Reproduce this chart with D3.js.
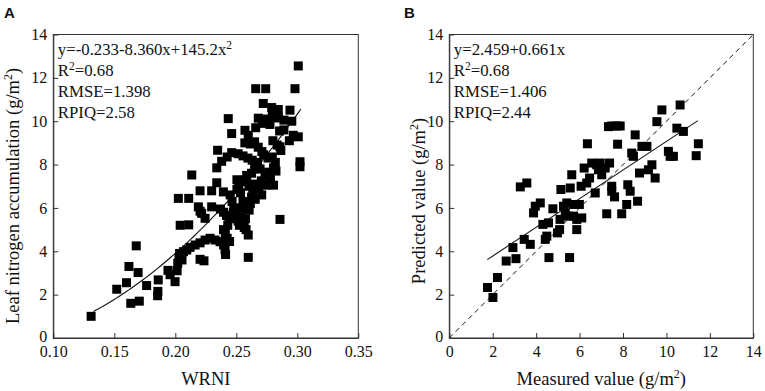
<!DOCTYPE html>
<html>
<head>
<meta charset="utf-8">
<script src="https://cdn.jsdelivr.net/npm/d3@7"></script>
<style>
  html, body { margin: 0; padding: 0; background: #fff; }
  svg { display: block; }
</style>
</head>
<body>
<svg id="chart" width="765" height="391"></svg>
<script>
// ---------- Panel A data: WRNI vs leaf nitrogen accumulation ----------
const wrniA = [
  0.131,0.152,0.160,0.162,0.1635,0.1705,0.168,0.1695,0.1765,0.1855,0.1857,0.186,0.194,0.1957,0.1998,
  0.2015,0.202,0.203,0.2035,0.2025,0.211,0.204,0.211,0.2135,0.2067,0.2094,0.2121,0.2162,0.2203,0.2244,0.2285,0.2326,0.2367,0.2396,0.2408,0.2412,0.2203,0.2235,0.205,0.2055,
  0.2203,0.2298,0.234,0.2189,0.2216,0.2244,0.2203,0.2298,0.2394,0.2347,0.238,0.234,0.237,0.2395,0.242,0.244,0.2395,0.241,0.2425,0.2445,0.243,
  0.245,0.2465,0.248,0.25,0.2515,0.2525,0.2485,0.2475,0.2535,0.255,0.2565,0.258,0.2545,0.2555,0.2535,0.252,0.2505,0.2555,0.2575,0.2585,0.2505,0.2598,0.2598,0.2575,0.2605,0.2615,0.2625,0.2635,0.264,0.2625,0.265,0.266,0.2605,
  0.2462,0.2515,0.2555,0.2595,0.263,0.2675,0.2425,
  0.2434,0.2462,0.2571,0.2598,0.2659,0.268,0.2715,0.274,0.2776,0.257,0.2615,0.265,0.268,0.271,0.2659,0.2741,
  0.2981,0.3008,0.2721,0.279,0.2844,0.294,0.2795,0.2845,0.289,0.2955,0.2855,0.289,0.2967,0.3008,0.2935,0.28,0.2835,0.2858,0.2865,0.2725,0.276,0.2795,0.282,0.2805,0.2825,0.3022,0.3022,0.2708,0.2745,0.2705,0.2735,0.2655,0.2685,0.2858,0.2805,0.278,0.2765,0.2695
];
const lnaA = [
  1.0,2.25,2.55,3.3,1.6,1.7,4.25,3.02,2.42,1.95,2.15,2.68,3.12,2.92,2.6,
  3.1,3.45,3.7,3.9,6.44,6.44,5.2,5.22,7.52,3.98,4.06,4.18,4.29,4.39,4.52,4.6,4.52,4.44,4.29,4.06,3.85,3.63,3.56,3.75,3.6,
  6.79,6.79,7.16,6.05,5.75,5.52,5.85,6.05,6.74,8.66,8.15,7.85,5.95,5.8,5.65,5.55,5.0,4.8,4.6,4.45,5.2,
  6.6,6.3,6.0,5.7,5.4,5.2,5.5,5.8,5.6,5.3,5.1,5.0,6.0,6.3,6.7,7.0,6.85,7.2,7.3,7.5,7.3,4.75,3.72,5.5,5.9,6.2,6.5,6.8,7.1,7.6,7.8,8.0,7.0,
  8.55,8.5,8.4,8.3,8.2,8.1,8.35,
  10.12,9.43,9.58,9.35,9.7,10.14,9.9,10.1,9.85,9.0,8.95,9.05,8.8,8.6,11.5,11.5,
  11.5,12.55,10.82,10.63,10.54,10.51,10.25,10.15,10.05,10.0,9.55,9.6,9.35,9.28,9.1,9.1,8.9,8.82,8.65,8.45,8.3,8.35,8.1,7.85,7.7,8.13,7.9,6.6,7.05,7.25,7.5,6.4,6.9,5.47,7.05,7.4,7.65,7.8
];
// fitted quadratic shown on the chart: y = c0 + c1 x + c2 x^2
const fitCoefA = [-0.233, -8.360, 145.2];
const fitRangeA = [0.133, 0.303];
const xTicksA = [0.10, 0.15, 0.20, 0.25, 0.30, 0.35];
const yTicks = [0, 2, 4, 6, 8, 10, 12, 14];
const statsA = ["y=-0.233-8.360x+145.2x", "R", "RMSE=1.398", "RPIQ=2.58"];

// ---------- Panel B data: measured vs predicted ----------
const measuredB = [
  1.76,2.01,2.22,2.62,2.93,3.07,3.27,3.57,3.45,3.73,3.88,3.96,4.19,4.31,4.42,4.49,4.57,4.59,4.77,4.98,
  5.08,5.1,5.14,5.26,5.34,5.41,5.49,5.54,5.57,5.64,5.69,5.72,5.87,5.87,5.99,6.07,6.1,6.21,6.33,6.36,
  6.46,6.56,6.72,6.79,6.87,6.95,7.02,7.18,7.25,7.38,7.33,7.48,7.71,7.87,7.75,7.48,7.48,7.61,7.94,8.17,
  8.22,8.33,8.4,8.48,8.56,8.67,8.76,8.87,9.1,9.17,9.33,9.48,9.56,9.79,10.09,10.17,10.32,10.48,10.63,10.78,
  11.37,11.47
];
const predictedB = [
  2.33,1.87,2.79,3.55,4.17,3.66,6.97,7.15,4.55,4.32,5.77,6.08,6.23,5.24,4.55,4.7,5.31,3.71,5.96,4.85,
  5.0,5.47,6.85,6.08,5.77,6.23,5.62,3.71,6.92,7.53,6.16,5.62,5.47,5.0,6.16,7.0,5.54,7.84,7.15,8.96,
  7.38,8.07,6.69,7.99,7.76,8.07,7.53,7.84,5.73,8.07,9.75,9.78,9.78,9.78,8.94,7.0,6.77,6.51,5.73,6.16,
  7.07,6.77,8.53,8.38,9.37,6.31,7.61,8.84,8.84,7.76,7.99,7.38,9.98,10.52,8.61,8.38,8.38,9.68,10.75,9.53,
  8.41,8.96
];
const fitCoefB = [2.459, 0.661];
const fitRangeB = [1.75, 11.45];
const xTicksB = [0, 2, 4, 6, 8, 10, 12, 14];
const statsB = ["y=2.459+0.661x", "R", "RMSE=1.406", "RPIQ=2.44"];
const r2Text = "=0.68";

// ---------- drawing ----------
const SERIF = '"Liberation Serif", "Times New Roman", serif';
const svg = d3.select("#chart");
const plotTop = 34.5, plotBottom = 338;
const markSize = 9;

function panel(opt) {
  const g = svg.append("g");
  const x = d3.scaleLinear().domain(opt.xDomain).range([opt.left, opt.right]);
  const y = d3.scaleLinear().domain([0, 14]).range([plotBottom, plotTop]);

  g.append("rect").attr("x", opt.left).attr("y", plotTop)
    .attr("width", opt.right - opt.left).attr("height", plotBottom - plotTop)
    .attr("fill", "none").attr("stroke", "#333").attr("stroke-width", 1);

  const xa = g.append("g").attr("transform", `translate(0,${plotBottom})`)
    .call(d3.axisBottom(x).tickValues(opt.xTicks).tickSizeInner(-5).tickSizeOuter(0)
      .tickPadding(8).tickFormat(opt.xFormat));
  xa.select(".domain").attr("stroke", "#333");
  xa.selectAll(".tick line").attr("stroke", "#333");
  xa.selectAll(".tick text").style("font-size", "16px").style("font-family", SERIF).attr("fill", "#111");

  const ya = g.append("g").attr("transform", `translate(${opt.left},0)`)
    .call(d3.axisLeft(y).tickValues(yTicks).tickSizeInner(-5).tickSizeOuter(0)
      .tickPadding(6).tickFormat(d3.format("d")));
  ya.select(".domain").attr("stroke", "#333");
  ya.selectAll(".tick line").attr("stroke", "#333");
  ya.selectAll(".tick text").style("font-size", "16px").style("font-family", SERIF).attr("fill", "#111");
  ya.selectAll(".tick").filter(d => d === 0).select("text").attr("dy", "0.2em");

  if (opt.extra) opt.extra(g, x, y);

  g.append("g").selectAll("rect").data(d3.zip(opt.xs, opt.ys)).join("rect")
    .attr("x", d => x(d[0]) - markSize / 2)
    .attr("y", d => y(d[1]) - markSize / 2)
    .attr("width", markSize).attr("height", markSize)
    .attr("fill", "#000");

  const tx = opt.left + 4.5;
  const base = [54.5, 75.5, 96.5, 117.5];
  const mk = (yy) => g.append("text").attr("x", tx).attr("y", yy)
    .style("font-family", SERIF).style("font-size", "16.8px").attr("fill", "#111");
  const t0 = mk(base[0]);
  t0.append("tspan").text(opt.stats[0]);
  if (opt.eqSup) t0.append("tspan").attr("dy", -6).style("font-size", "11.5px").text("2");
  const t1 = mk(base[1]);
  t1.append("tspan").text(opt.stats[1]);
  t1.append("tspan").attr("dy", -6).style("font-size", "11.5px").text("2");
  t1.append("tspan").attr("dy", 6).text(r2Text);
  mk(base[2]).text(opt.stats[2]);
  mk(base[3]).text(opt.stats[3]);

  g.append("text").attr("x", opt.letterX).attr("y", 18)
    .style("font-family", '"Liberation Sans", Arial, sans-serif').style("font-weight", "bold")
    .style("font-size", "15px").attr("fill", "#111").text(opt.letter);

  const xt = g.append("text").attr("x", (opt.left + opt.right) / 2 + opt.xTitleShift).attr("y", 385)
    .attr("text-anchor", "middle").style("font-family", SERIF).style("font-size", "18.5px").attr("fill", "#111");
  xt.append("tspan").text(opt.xTitle);
  if (opt.xTitleUnit) {
    xt.append("tspan").text("(g/m");
    xt.append("tspan").attr("dy", -7).style("font-size", "12px").text("2");
    xt.append("tspan").attr("dy", 7).text(")");
  }
  const yt = g.append("text")
    .attr("transform", `translate(${opt.yTitleX},${opt.yTitleY}) rotate(-90)`)
    .attr("text-anchor", "middle").style("font-family", SERIF).style("font-size", "18.5px").attr("fill", "#111");
  yt.append("tspan").text(opt.yTitle + "(g/m");
  yt.append("tspan").attr("dy", -7).style("font-size", "12px").text("2");
  yt.append("tspan").attr("dy", 7).text(")");
}

panel({
  left: 53.3, right: 358.3, xDomain: [0.10, 0.35], xTicks: xTicksA,
  xFormat: d3.format(".2f"), xs: wrniA, ys: lnaA, stats: statsA, eqSup: true,
  letter: "A", letterX: 4, xTitle: "WRNI", xTitleUnit: false, xTitleShift: 0,
  yTitle: "Leaf nitrogen accumulation ", yTitleX: 19, yTitleY: 196,
  extra: (g, x, y) => {
    const xsFit = d3.range(0, 101).map(i => fitRangeA[0] + (fitRangeA[1] - fitRangeA[0]) * i / 100);
    g.append("path").datum(xsFit)
      .attr("d", d3.line().x(d => x(d)).y(d => y(fitCoefA[0] + fitCoefA[1] * d + fitCoefA[2] * d * d)))
      .attr("fill", "none").attr("stroke", "#111").attr("stroke-width", 1.1);
  }
});

panel({
  left: 449.3, right: 753.3, xDomain: [0, 14], xTicks: xTicksB,
  xFormat: d3.format("d"), xs: measuredB, ys: predictedB, stats: statsB, eqSup: false,
  letter: "B", letterX: 404, xTitle: "Measured value ", xTitleUnit: true, xTitleShift: 0,
  yTitle: "Predicted value ", yTitleX: 425, yTitleY: 201,
  extra: (g, x, y) => {
    g.append("line").attr("x1", x(0)).attr("y1", y(0)).attr("x2", x(14)).attr("y2", y(14))
      .attr("stroke", "#111").attr("stroke-width", 1).attr("stroke-dasharray", "5,4");
    g.append("line")
      .attr("x1", x(fitRangeB[0])).attr("y1", y(fitCoefB[0] + fitCoefB[1] * fitRangeB[0]))
      .attr("x2", x(fitRangeB[1])).attr("y2", y(fitCoefB[0] + fitCoefB[1] * fitRangeB[1]))
      .attr("stroke", "#111").attr("stroke-width", 1.1);
  }
});
</script>
</body>
</html>
